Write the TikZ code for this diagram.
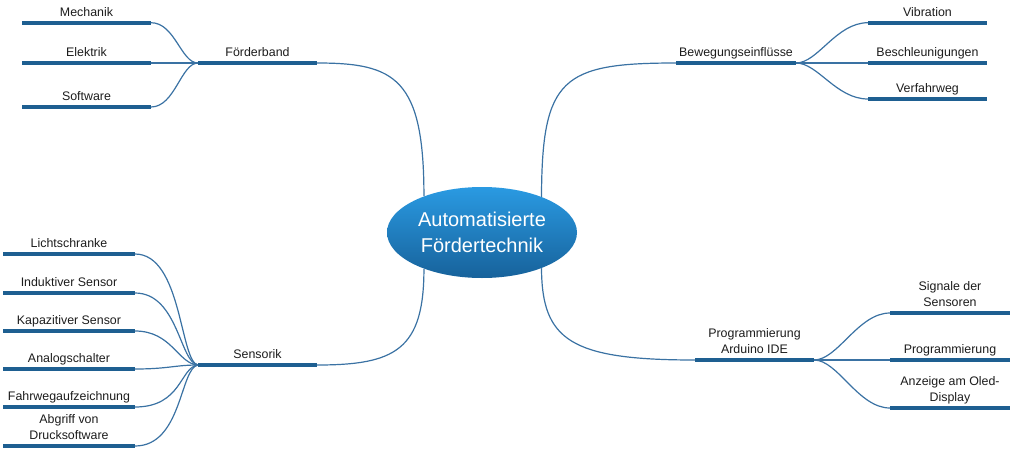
\documentclass[tikz,border=0pt]{standalone}
\usepackage{fontspec}
\setmainfont{Liberation Sans}
\usetikzlibrary{shapes.geometric}
\definecolor{barblue}{HTML}{1E5F91}
\definecolor{lineblue}{HTML}{3A72A3}
\definecolor{txt}{HTML}{1C1C1C}
\definecolor{elltop}{HTML}{2A9AE2}
\definecolor{ellbot}{HTML}{17629B}
\begin{document}
\begin{tikzpicture}[x=0.75pt,y=-0.75pt,
  barline/.style={line width=2.8pt, barblue},
  conn/.style={line width=0.9pt, lineblue},
  lbl/.style={font=\fontsize{9.3}{12}\selectfont, text=txt, inner sep=0pt, anchor=base, align=center},
  centre/.style={ellipse, top color=elltop, bottom color=ellbot, draw=none,
    minimum width=142.5pt, minimum height=68.25pt, inner sep=0pt, text=white,
    align=center, font=\fontsize{15}{19.5}\selectfont}]
\useasboundingbox (0,0) rectangle (1013,450);

% centre
\node[centre] (ell) at (482,232.5) {Automatisierte\\Fördertechnik};

% ---------- Förderband ----------
\coordinate (fbL) at (198,63);  \coordinate (fbR) at (317,63);
\coordinate (meL) at (22,22.7); \coordinate (meR) at (151,22.7);
\coordinate (elL) at (22,63);   \coordinate (elR) at (151,63);
\coordinate (soL) at (22,107);  \coordinate (soR) at (151,107);
\draw[conn] (fbR) .. controls (395,63) and (424,78) .. (ell.148);
\draw[conn] (meR) .. controls (175,22.7) and (181,63) .. (fbL);
\draw[conn] (elR) -- (fbL);
\draw[conn] (soR) .. controls (175,107) and (181,63) .. (fbL);
\draw[barline] (fbL) -- (fbR);
\draw[barline] (meL) -- (meR);
\draw[barline] (elL) -- (elR);
\draw[barline] (soL) -- (soR);
\node[lbl] (fb) at (257.5,56.5) {Förderband};
\node[lbl] (me) at (86.5,16.2) {Mechanik};
\node[lbl] (el) at (86.5,56.5) {Elektrik};
\node[lbl] (so) at (86.5,100.5) {Software};

% ---------- Sensorik ----------
\coordinate (sbL) at (198,365); \coordinate (sbR) at (317,365);
\coordinate (liL) at (3,254);   \coordinate (liR) at (135,254);
\coordinate (inL) at (3,293);   \coordinate (inR) at (135,293);
\coordinate (kaL) at (3,331);   \coordinate (kaR) at (135,331);
\coordinate (anL) at (3,369);   \coordinate (anR) at (135,369);
\coordinate (faL) at (3,407);   \coordinate (faR) at (135,407);
\coordinate (abL) at (3,446);   \coordinate (abR) at (135,446);
\draw[conn] (ell.212) .. controls (424,350) and (395,365) .. (sbR);
\draw[conn] (liR) .. controls (182,254) and (180,362) .. (sbL);
\draw[conn] (inR) .. controls (178,293) and (180,363) .. (sbL);
\draw[conn] (kaR) .. controls (172,331) and (178,364) .. (sbL);
\draw[conn] (anR) .. controls (168,369) and (175,365) .. (sbL);
\draw[conn] (faR) .. controls (182,407) and (180,367) .. (sbL);
\draw[conn] (abR) .. controls (182,446) and (180,368) .. (sbL);
\draw[barline] (sbL) -- (sbR);
\foreach \n in {li,in,ka,an,fa,ab} {\draw[barline] (\n L) -- (\n R);}
\node[lbl] (sb) at (257.5,358.5) {Sensorik};
\node[lbl] (li) at (69,247.5) {Lichtschranke};
\node[lbl] (in) at (69,286.5) {Induktiver Sensor};
\node[lbl] (ka) at (69,324.5) {Kapazitiver Sensor};
\node[lbl] (an) at (69,362.5) {Analogschalter};
\node[lbl] (fa) at (69,400.5) {Fahrwegaufzeichnung};
\node[lbl] (ab) at (69,439.5) {Abgriff von\\Drucksoftware};

% ---------- Bewegungseinflüsse ----------
\coordinate (beL) at (676,63);  \coordinate (beR) at (796,63);
\coordinate (viL) at (868,22.7); \coordinate (viR) at (987,22.7);
\coordinate (bsL) at (868,63);  \coordinate (bsR) at (987,63);
\coordinate (vfL) at (868,99);  \coordinate (vfR) at (987,99);
\draw[conn] (ell.31) .. controls (542,78) and (562,63) .. (beL);
\draw[conn] (beR) .. controls (818,63) and (836,22.7) .. (viL);
\draw[conn] (beR) -- (bsL);
\draw[conn] (beR) .. controls (818,63) and (836,99) .. (vfL);
\draw[barline] (beL) -- (beR);
\foreach \n in {vi,bs,vf} {\draw[barline] (\n L) -- (\n R);}
\node[lbl] (be) at (736,56.5) {Bewegungseinflüsse};
\node[lbl] (vi) at (927.5,16.2) {Vibration};
\node[lbl] (bs) at (927.5,56.5) {Beschleunigungen};
\node[lbl] (vf) at (927.5,92.5) {Verfahrweg};

% ---------- Programmierung ----------
\coordinate (prL) at (695,360); \coordinate (prR) at (814,360);
\coordinate (sgL) at (890,313); \coordinate (sgR) at (1010,313);
\coordinate (pgL) at (890,360); \coordinate (pgR) at (1010,360);
\coordinate (azL) at (890,408); \coordinate (azR) at (1010,408);
\draw[conn] (ell.329) .. controls (542,340) and (570,360) .. (prL);
\draw[conn] (prR) .. controls (838,360) and (858,313) .. (sgL);
\draw[conn] (prR) -- (pgL);
\draw[conn] (prR) .. controls (838,360) and (858,408) .. (azL);
\draw[barline] (prL) -- (prR);
\foreach \n in {sg,pg,az} {\draw[barline] (\n L) -- (\n R);}
\node[lbl] (pr) at (754.5,353.5) {Programmierung\\Arduino IDE};
\node[lbl] (sg) at (950,306.5) {Signale der\\Sensoren};
\node[lbl] (pg) at (950,353.5) {Programmierung};
\node[lbl] (az) at (950,401.5) {Anzeige am Oled-\\Display};
\end{tikzpicture}
\end{document}
